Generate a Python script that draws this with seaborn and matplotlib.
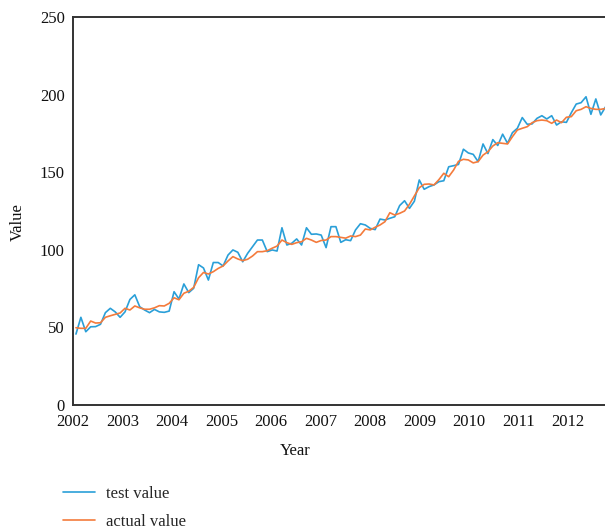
import numpy as np
import pandas as pd
import matplotlib
matplotlib.use("Agg")
import matplotlib.pyplot as plt
import seaborn as sns

# Sampling of the series along the year axis (start year, step in years)
start_year = 2002.06
step_years = 0.0991

test_value = [
    45.7, 56.5, 47.2, 50.4, 50.5, 52.0, 59.5, 62.3, 60.0, 56.5,
    60.0, 68.0, 71.0, 63.3, 61.2, 59.5, 61.6, 60.0, 59.7, 60.5,
    73.0, 68.3, 78.0, 72.4, 75.2, 90.4, 88.3, 80.5, 91.8, 91.8,
    89.6, 96.6, 99.9, 98.4, 92.3, 97.7, 102.0, 106.3, 106.3, 98.8,
    99.9, 99.2, 114.2, 103.1, 104.2, 107.0, 103.1, 114.2, 110.0, 110.2,
    109.5, 101.4, 114.9, 114.9, 104.8, 106.5, 105.9, 112.8, 116.8, 116.0,
    113.8, 113.0, 119.8, 119.2, 120.3, 121.3, 128.5, 131.6, 126.7, 131.3,
    145.0, 139.0, 140.7, 141.8, 143.9, 144.5, 153.5, 154.2, 155.0, 164.8,
    162.4, 161.5, 156.8, 168.2, 162.0, 171.0, 167.2, 174.5, 168.6, 175.5,
    178.3, 185.2, 180.9, 181.1, 184.7, 186.4, 184.3, 186.4, 180.4, 182.5,
    182.1, 188.3, 193.9, 194.8, 198.6, 187.3, 197.2, 186.9, 192.2,
]

actual_value = [
    49.8, 49.4, 49.4, 54.1, 52.8, 53.0, 56.5, 57.5, 58.4, 59.3,
    62.3, 61.2, 63.8, 62.6, 61.7, 61.7, 62.6, 64.0, 63.8, 65.5,
    69.1, 67.8, 72.0, 73.3, 75.8, 82.0, 85.4, 84.4, 85.9, 88.0,
    89.6, 92.8, 95.6, 94.1, 93.0, 93.9, 96.0, 98.8, 98.8, 99.4,
    101.0, 102.4, 106.3, 104.6, 103.5, 104.6, 105.2, 107.4, 106.3, 104.8,
    106.0, 106.3, 108.5, 108.5, 108.0, 107.5, 108.9, 108.5, 109.5, 113.4,
    112.8, 114.5, 116.0, 118.1, 123.9, 122.4, 123.5, 125.0, 129.3, 134.7,
    140.0, 142.2, 142.4, 141.8, 145.2, 149.3, 147.1, 151.4, 157.0, 158.3,
    157.9, 156.0, 156.8, 161.0, 163.2, 166.9, 169.0, 168.6, 168.2, 172.9,
    177.2, 178.3, 179.3, 181.9, 183.2, 183.6, 183.2, 181.5, 183.6, 181.9,
    185.4, 185.8, 189.6, 190.5, 192.2, 191.1, 190.5, 190.5, 191.1,
]

year_ticks = list(range(2002, 2013))
value_ticks = [0, 50, 100, 150, 200, 250]
series_names = ["test value", "actual value"]
series_colors = ["#2a9fd8", "#f47b3c"]

years = start_year + step_years * np.arange(len(test_value))
df = pd.DataFrame({
    "Year": np.concatenate([years, years]),
    "Value": np.concatenate([test_value, actual_value]),
    "series": [series_names[0]] * len(test_value) + [series_names[1]] * len(actual_value),
})

sns.set_style("white")
plt.rcParams["font.family"] = ["Liberation Serif", "DejaVu Serif"]

fs = 12

fig = plt.figure(figsize=(6.05, 5.29), dpi=100)
ax = fig.add_axes([73 / 605, 1 - 405 / 529, 1 - 73 / 605, (405 - 17) / 529])

sns.lineplot(data=df, x="Year", y="Value", hue="series",
             palette=dict(zip(series_names, series_colors)),
             linewidth=1.2, ax=ax, legend=False)

ax.set_xlim(2002, 2012.75)
ax.set_ylim(0, 250)
ax.set_xticks(year_ticks)
ax.set_yticks(value_ticks)
ax.tick_params(axis="both", length=0, labelsize=fs, labelcolor="#111111")
ax.tick_params(axis="y", pad=6)
ax.tick_params(axis="x", pad=6.5)

for side in ["left", "bottom", "top"]:
    ax.spines[side].set_color("#333333")
    ax.spines[side].set_linewidth(1.4)
ax.spines["right"].set_visible(False)

ax.set_xlabel("Year", fontsize=fs, color="#111111")
ax.set_ylabel("Value", fontsize=fs, color="#111111")
ax.xaxis.set_label_coords((295 - 73) / 532, (405 - 443) / 388)
ax.yaxis.set_label_coords((26 - 73) / 532, (405 - 222) / 388)

handles = [plt.Line2D([], [], color=c, linewidth=1.2) for c in series_colors]
fig.legend(handles, series_names, loc="upper left",
           bbox_to_anchor=(63 / 605, 1 - 486 / 529),
           frameon=False, fontsize=fs, handlelength=1.9,
           handletextpad=0.7, labelspacing=0.72,
           borderpad=0, borderaxespad=0)

fig.savefig("out.png", dpi=100)
